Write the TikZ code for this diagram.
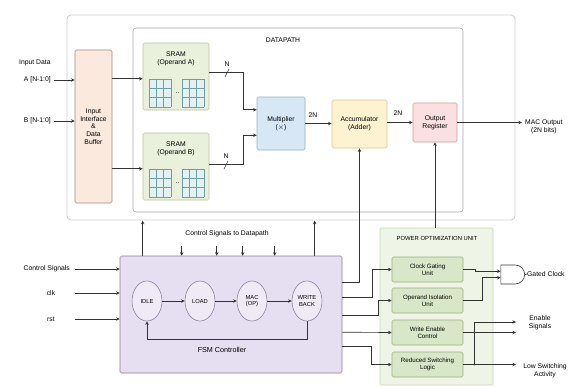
\documentclass[tikz,border=0pt]{standalone}
\usepackage{fontspec}
\setmainfont{Liberation Sans}
\usetikzlibrary{arrows.meta,shapes.geometric,shapes.gates.logic.US,calc}
\definecolor{linec}{HTML}{333333}
\definecolor{outerc}{HTML}{CFCFCF}
\definecolor{dpc}{HTML}{A8A8A8}
\definecolor{ifill}{HTML}{FCE9DE}
\definecolor{idraw}{HTML}{9C8C84}
\definecolor{sfill}{HTML}{E9F0DC}
\definecolor{sdraw}{HTML}{B9C8A2}
\definecolor{gfill}{HTML}{E3F1F1}
\definecolor{gdraw}{HTML}{6E9FA8}
\definecolor{mfill}{HTML}{D8E7F6}
\definecolor{mdraw}{HTML}{97AFC8}
\definecolor{afill}{HTML}{FDF3D0}
\definecolor{adraw}{HTML}{D6C68E}
\definecolor{rfill}{HTML}{FAE0E0}
\definecolor{rdraw}{HTML}{D49A9A}
\definecolor{ffill}{HTML}{E6DEF1}
\definecolor{fdraw}{HTML}{8C8299}
\definecolor{stfill}{HTML}{EFEAF6}
\definecolor{pfill}{HTML}{EEF5E7}
\definecolor{pdraw}{HTML}{C3D8B2}
\definecolor{ubfill}{HTML}{D8E7C7}
\definecolor{ubdraw}{HTML}{98B07F}
\begin{document}
\begin{tikzpicture}[x=1pt,y=-1pt,
  font=\fontsize{6.8}{7.8}\selectfont,
  arr/.style={draw=linec,line width=0.65pt,-{Stealth[length=3.6pt,width=3.4pt]}},
  ln/.style={draw=linec,line width=0.65pt},
  blk/.style={draw,line width=0.6pt,rounded corners=1.5pt,inner sep=0pt,align=center},
  ubox/.style={blk,fill=ubfill,draw=ubdraw,minimum width=71pt,minimum height=25pt,font=\fontsize{6.2}{7.2}\selectfont},
  state/.style={ellipse,draw=fdraw,fill=stfill,line width=0.6pt,minimum width=30pt,minimum height=40pt,inner sep=0pt,align=center,font=\fontsize{5.8}{6.8}\selectfont},
  txt/.style={inner sep=0pt,align=center},
  memgrid/.pic={
    \fill[gfill] (0,0) rectangle (22,28);
    \foreach \i in {0,...,3} \draw[gdraw,line width=0.5pt] (\i*7.333,0) -- (\i*7.333,28);
    \foreach \j in {0,...,3} \draw[gdraw,line width=0.5pt] (0,\j*9.333) -- (22,\j*9.333);
  }]
\useasboundingbox (0,0) rectangle (578,386);
\fill[white] (0,0) rectangle (578,386);

% containers
\node[blk,draw=outerc,fill=white,rounded corners=4pt,line width=0.9pt,minimum width=448pt,minimum height=205pt] (outer) at (291,117.5) {};
\node[blk,draw=dpc,fill=white,rounded corners=3pt,minimum width=330pt,minimum height=184pt] (dp) at (298,120) {};
\node[txt] (dptitle) at (283,40) {DATAPATH};

% datapath blocks
\node[blk,fill=ifill,draw=idraw,minimum width=37pt,minimum height=153pt] (iface) at (93.5,126.5) {Input\\Interface\\\&\\Data\\Buffer};
\node[blk,fill=sfill,draw=sdraw,minimum width=66pt,minimum height=67pt] (sramA) at (176,76.5) {};
\node[txt] (sramAt) at (176,59) {SRAM\\(Operand A)};
\pic at (149,79) {memgrid};
\pic at (182,79) {memgrid};
\node[txt] (dotsA) at (177.5,93) {..};
\node[blk,fill=sfill,draw=sdraw,minimum width=66pt,minimum height=67pt] (sramB) at (176,166.5) {};
\node[txt] (sramBt) at (176,149) {SRAM\\(Operand B)};
\pic at (149,169) {memgrid};
\pic at (182,169) {memgrid};
\node[txt] (dotsB) at (177.5,183) {..};

\node[blk,fill=mfill,draw=mdraw,minimum width=48pt,minimum height=53pt] (mult) at (281,123.5) {Multiplier\\($\times$)};
\node[blk,fill=afill,draw=adraw,minimum width=55pt,minimum height=48pt] (acc) at (359.5,124) {Accumulator\\(Adder)};
\node[blk,fill=rfill,draw=rdraw,minimum width=44pt,minimum height=39pt] (oreg) at (435,122.5) {Output\\Register};

% inputs
\node[txt,anchor=west] (tin) at (19,63) {Input Data};
\node[txt,anchor=east] (ta) at (51,80) {A [N-1:0]};
\node[txt,anchor=east] (tb) at (51,121) {B [N-1:0]};
\draw[arr] ($(ta.east)+(3,0)$) -- (ta.east -| iface.west);
\draw[arr] ($(tb.east)+(3,0)$) -- (tb.east -| iface.west);

\draw[arr] ($(iface.north east)+(0,29)$) -- ($(sramA.north west)+(0,36)$);
\draw[arr] ($(iface.north east)+(0,119)$) -- ($(sramB.north west)+(0,36)$);

% operand paths
\draw[arr] ($(sramA.north east)+(0,30)$) -- ++(34,0) |- ($(mult.north west)+(0,13)$);
\draw[arr] ($(sramB.north east)+(0,32)$) -- ++(34,0) |- ($(mult.south west)+(0,-15)$);
\draw[ln] (225,77) -- (229,69);
\draw[ln] (224,169) -- (228,161);
\node[txt] (nA) at (227,64) {N};
\node[txt] (nB) at (226,156) {N};

\draw[arr] (mult.east) -- (mult.east -| acc.west);
\node[txt] (l2n1) at (313,115) {2N};
\draw[arr] (acc.east |- oreg.east) -- (oreg.west);
\node[txt] (l2n2) at (398,113) {2N};
\node[txt,anchor=west] (mac) at (525,127) {MAC Output\\(2N bits)};
\coordinate (macend) at (522,122.5);
\draw[arr] (oreg.east) -- (macend);

% FSM
\node[blk,fill=ffill,draw=fdraw,minimum width=222pt,minimum height=117pt] (fsm) at (231,314.5) {};
\node[txt] (fsmt) at (222,350) {\fontsize{7.2}{8}\selectfont FSM Controller};
\node[state] (idle) at (147,301) {IDLE};
\node[state] (load) at (200,301) {LOAD};
\node[state] (macop) at (252,301) {MAC\\(OP)};
\node[state] (wb) at (307,301) {WRITE\\BACK};
\draw[arr] (idle) -- (load);
\draw[arr] (load) -- (macop);
\draw[arr] (macop) -- (wb);
\draw[arr] (wb.south) -- ++(0,18) -| (idle.south);

\node[txt,anchor=east] (tcs) at (70,269) {Control Signals};
\node[txt] (tclk) at (51,293) {clk};
\node[txt] (trst) at (51,319) {rst};
\draw[arr] ($(tcs.east)+(5,0)$) -- (tcs.east -| fsm.west);
\draw[arr] ($(tclk.east)+(20,0)$) -- (tclk.east -| fsm.west);
\draw[arr] ($(trst.east)+(20,0)$) -- (trst.east -| fsm.west);

\node[txt] (tcsd) at (227,234) {Control Signals to Datapath};
\draw[arr] ($(fsm.north west)+(23,0)$) -- ++(0,-35);
\draw[arr] ($(fsm.north west)+(195,0)$) -- ++(0,-35);
\foreach \x in {62,97,123,155}
  \draw[arr] ($(fsm.north west)+(\x,-10)$) -- ($(fsm.north west)+(\x,0)$);

% power unit
\node[blk,fill=pfill,draw=pdraw,rounded corners=1pt,minimum width=113pt,minimum height=157pt] (pwr) at (436.5,306.5) {};
\node[txt] (pwrt) at (437,238) {\fontsize{5.9}{7}\selectfont POWER OPTIMIZATION UNIT};
\node[ubox] (clock) at (427.5,269.5) {Clock Gating\\Unit};
\node[ubox] (operand) at (427.5,300.5) {Operand Isolation\\Unit};
\node[ubox] (wen) at (427.5,332.5) {Write Enable\\Control};
\node[ubox] (rsl) at (427.5,364.5) {Reduced Switching\\Logic};

\draw[arr] (pwr.north -| oreg.south) -- (oreg.south);

% FSM to accumulator / power unit
\draw[arr] ($(fsm.north east)+(0,27)$) -| (acc.south);
\draw[arr] ($(fsm.north east)+(0,42)$) -- ++(30,0) |- (clock.west);
\draw[arr] ($(fsm.north east)+(0,60)$) -- ++(36,0) |- (operand.west);
\draw[arr] ($(fsm.north east)+(0,76.5)$) -- (wen.west);
\draw[arr] ($(fsm.north east)+(0,91)$) -- ++(29,0) |- (rsl.west);

% outputs
\node[and gate US,draw=linec,fill=white,line width=0.6pt,logic gate inputs=nn,inner sep=0pt,minimum height=19pt,minimum width=16pt] (andg) at (512,274.5) {};
\draw[arr] (clock.east) -- ++(12,0) |- (andg.input 1);
\draw[arr] (operand.east) -- ++(19,0) |- (andg.input 2);
\node[txt,anchor=west] (gclk) at (527,274) {Gated Clock};
\draw[ln] (andg.output) -- (gclk.west);

\coordinate (en1) at (516,322);
\coordinate (en2) at (516,332.5);
\coordinate (lsa) at (516,364.5);
\draw[arr] (wen.east) -- (en2);
\draw[arr] (rsl.east) -- (lsa);
\draw[arr] ($(rsl.east)+(11,0)$) |- (en1);
\fill[linec] ($(rsl.east)+(11,0)$) circle (1pt);
\node[txt] (ens) at (540,323) {Enable\\Signals};
\node[txt] (lsw) at (545,371) {Low Switching\\Activity};
\end{tikzpicture}
\end{document}
